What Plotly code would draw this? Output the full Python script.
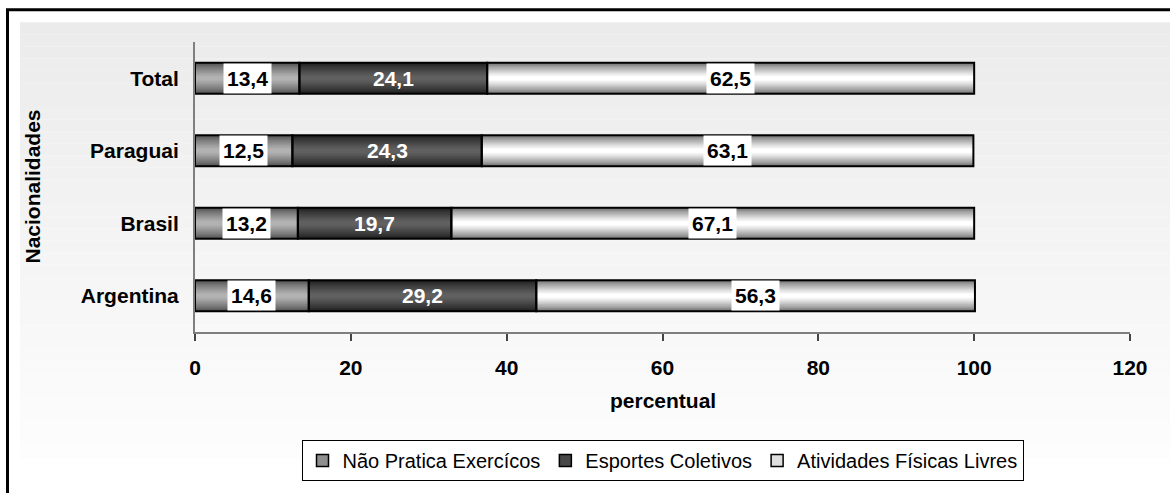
import plotly.graph_objects as go

# Data: share of each activity profile by nationality (percent)
categorias = ["Argentina", "Brasil", "Paraguai", "Total"]
nao_pratica = [14.6, 13.2, 12.5, 13.4]
esportes_coletivos = [29.2, 19.7, 24.3, 24.1]
atividades_livres = [56.3, 67.1, 63.1, 62.5]

series_nomes = ["Não Pratica Exercícos", "Esportes Coletivos", "Atividades Físicas Livres"]
eixo_x_ticks = [0, 20, 40, 60, 80, 100, 120]

FONT = "Arial, Liberation Sans, sans-serif"
FS = 21
W = 1170
H = 493
ML, MR, MT, MB = 195, 40, 42, 158
PW = W - ML - MR
PH = H - MT - MB


def px_x(p):
    return (p - ML) / PW


def px_y(p):
    return (H - MB - p) / PH


def mix(c1, c2, t):
    return "rgb(%d,%d,%d)" % tuple(round(a + (b - a) * t) for a, b in zip(c1, c2))


# (edge colour, centre colour, legend colour, label style)
estilos = [
    ((80, 80, 80), (178, 178, 178), "#8f8f8f", "box"),
    ((30, 30, 30), (96, 96, 96), "#474747", "white"),
    ((110, 110, 110), (255, 255, 255), "#dedede", "box"),
]

valores = [nao_pratica, esportes_coletivos, atividades_livres]
bases = []
acum = [0.0] * len(categorias)
for serie in valores:
    bases.append(list(acum))
    acum = [a + v for a, v in zip(acum, serie)]

BAR_W = 0.425
CAMADAS = 18

fig = go.Figure()

# Shaded bars: stacked layers of decreasing thickness give a cylinder-like shading
for serie, base, (c_edge, c_mid, _, _) in zip(valores, bases, estilos):
    for k in range(CAMADAS):
        t = k / (CAMADAS - 1)
        m = t ** 0.8
        fig.add_trace(go.Bar(
            x=serie, y=categorias, base=base, orientation="h",
            width=BAR_W * (1 - 0.92 * k / CAMADAS),
            marker=dict(color=mix(c_edge, c_mid, m), line=dict(width=0)),
            showlegend=False, hoverinfo="skip",
        ))

# Black outlines of every segment
for serie, base in zip(valores, bases):
    fig.add_trace(go.Bar(
        x=serie, y=categorias, base=base, orientation="h", width=BAR_W,
        marker=dict(color="rgba(0,0,0,0)", line=dict(color="black", width=2)),
        showlegend=False, hoverinfo="skip",
    ))

# Legend entries
for nome, (_, _, c_leg, _) in zip(series_nomes, estilos):
    fig.add_trace(go.Bar(
        x=[None], y=[None], orientation="h", name=nome,
        marker=dict(color=c_leg, line=dict(color="black", width=1.5)),
    ))

anotacoes = []
# Value labels centred on each segment
for serie, base, (_, _, _, estilo) in zip(valores, bases, estilos):
    for cat, v, b in zip(categorias, serie, base):
        txt = f"{v:.1f}".replace(".", ",")
        a = dict(
            x=b + v / 2, y=cat, xref="x", yref="y", text="<b>%s</b>" % txt,
            showarrow=False, font=dict(family=FONT, size=FS,
                                       color="white" if estilo == "white" else "black"),
        )
        if estilo == "box":
            a.update(bgcolor="white", borderpad=3)
        anotacoes.append(a)

anotacoes.append(dict(
    x=0.5, y=px_y(404), xref="paper", yref="paper", text="<b>percentual</b>",
    showarrow=False, xanchor="center", yanchor="middle",
    font=dict(family=FONT, size=FS, color="black"),
))
anotacoes.append(dict(
    x=px_x(33), y=px_y(188), xref="paper", yref="paper", text="<b>Nacionalidades</b>",
    showarrow=False, xanchor="center", yanchor="middle", textangle=-90,
    font=dict(family=FONT, size=FS, color="black"),
))

# Background: soft vertical gradient panel and outer frame
formas = []
top_px, bot_px = 22, 463
faixas = 36
for i in range(faixas):
    y0 = top_px + (bot_px - top_px) * i / faixas
    y1 = top_px + (bot_px - top_px) * (i + 1) / faixas
    cor = mix((235, 235, 235), (253, 253, 253), i / (faixas - 1))
    formas.append(dict(
        type="rect", xref="paper", yref="paper", layer="below",
        x0=px_x(20), x1=px_x(1180), y0=px_y(y1), y1=px_y(y0),
        fillcolor=cor, line=dict(width=0),
    ))
formas.append(dict(
    type="rect", xref="paper", yref="paper", layer="above",
    x0=px_x(7.5), x1=px_x(1185), y0=px_y(505), y1=px_y(9.5),
    fillcolor="rgba(0,0,0,0)", line=dict(color="black", width=3),
))

fig.update_layout(
    width=W, height=H,
    margin=dict(l=ML, r=MR, t=MT, b=MB, pad=0),
    barmode="overlay",
    paper_bgcolor="white",
    plot_bgcolor="rgba(0,0,0,0)",
    font=dict(family=FONT, size=FS, color="black"),
    showlegend=True,
    legend=dict(
        orientation="h", x=0.5, xanchor="center", y=px_y(444), yanchor="top",
        bgcolor="white", bordercolor="black", borderwidth=1,
        font=dict(family=FONT, size=20, color="black"),
        itemwidth=30, traceorder="normal", tracegroupgap=0,
    ),
    annotations=anotacoes,
    shapes=formas,
    xaxis=dict(
        range=[0, 120], tickvals=eixo_x_ticks,
        ticktext=["<b>%d</b>" % t for t in eixo_x_ticks],
        showline=True, linecolor="#7f7f7f", linewidth=2,
        ticks="outside", ticklen=7, tickwidth=1.5, tickcolor="#444",
        showgrid=False, zeroline=False, ticklabelstandoff=9,
        tickfont=dict(family=FONT, size=FS, color="black"),
        fixedrange=True,
    ),
    yaxis=dict(
        type="category", categoryorder="array", categoryarray=categorias,
        range=[-0.5, 3.5],
        tickvals=categorias, ticktext=["<b>%s</b>" % c for c in categorias],
        showline=True, linecolor="#7f7f7f", linewidth=2,
        ticks="", showgrid=False, zeroline=False, ticklabelstandoff=10,
        tickfont=dict(family=FONT, size=FS, color="black"),
        fixedrange=True,
    ),
)

fig.write_html("out.html")
